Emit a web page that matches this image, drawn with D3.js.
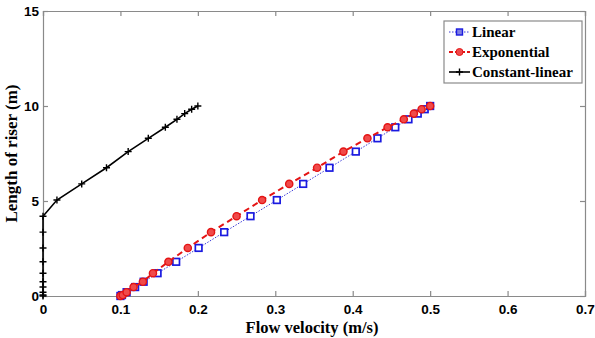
<!DOCTYPE html>
<html>
<head>
<meta charset="utf-8">
<script src="https://cdn.jsdelivr.net/npm/d3@7"></script>
<style>
  body { margin: 0; background: #fff; }
  .tick text { font-family: "Liberation Sans", Arial, sans-serif; font-weight: bold; font-size: 13.5px; fill: #000; }
  .axis-title, .legend text { font-family: "Liberation Serif", "Times New Roman", serif; font-weight: bold; fill: #000; }
</style>
</head>
<body>
<div class="chart"></div>
<script>
// riser length (m), shared by the three series
const lengths = [0, 0.05, 0.2, 0.47, 0.75, 1.2, 1.8, 2.53, 3.36, 4.2, 5.05, 5.9, 6.75, 7.6, 8.3, 8.88, 9.3, 9.6, 9.83, 10];
const linearVel = [0.1, 0.102, 0.108, 0.119, 0.13, 0.148, 0.172, 0.201, 0.234, 0.268, 0.302, 0.336, 0.37, 0.404, 0.432, 0.455, 0.472, 0.484, 0.493, 0.5];
const expVel = [0.1, 0.103, 0.108, 0.117, 0.129, 0.142, 0.162, 0.187, 0.217, 0.25, 0.283, 0.318, 0.354, 0.388, 0.419, 0.445, 0.466, 0.479, 0.489, 0.5];
const constVel = [0, 0, 0, 0, 0, 0, 0, 0, 0, 0, 0.018, 0.05, 0.082, 0.11, 0.136, 0.158, 0.173, 0.183, 0.192, 0.2];

const xTicks = [0, 0.1, 0.2, 0.3, 0.4, 0.5, 0.6, 0.7];
const yTicks = [0, 5, 10, 15];
const seriesNames = ['Linear', 'Exponential', 'Constant-linear'];

const margin = { top: 11, right: 10, bottom: 42, left: 43 };
const width = 595 - margin.left - margin.right;
const height = 338 - margin.top - margin.bottom;

const x = d3.scaleLinear().domain([0, 0.7]).range([0, width]);
const y = d3.scaleLinear().domain([0, 15]).range([height, 0]);

const svg = d3.select('.chart')
  .append('svg')
  .attr('width', 595)
  .attr('height', 338)
  .append('g')
  .attr('transform', `translate(${margin.left}, ${margin.top})`);

// box + ticks on all four sides (matlab style)
const axisColor = '#8a8a8a';
svg.append('g')
  .attr('class', 'axis x-axis')
  .attr('transform', `translate(0, ${height})`)
  .call(d3.axisBottom(x).tickValues(xTicks).tickFormat(d => d === 0 ? '0' : d3.format('.1f')(d)).tickSize(-5).tickPadding(9));
svg.append('g')
  .call(d3.axisTop(x).tickValues(xTicks).tickSize(-5).tickFormat(''));
svg.append('g')
  .attr('class', 'axis y-axis')
  .call(d3.axisLeft(y).tickValues(yTicks).tickSize(-5).tickPadding(4));
svg.append('g')
  .attr('transform', `translate(${width}, 0)`)
  .call(d3.axisRight(y).tickValues(yTicks).tickSize(-5).tickFormat(''));
svg.selectAll('.domain, .tick line').attr('stroke', axisColor).attr('stroke-width', 1.2);
svg.selectAll('.tick text').attr('dy', null);
svg.selectAll('.x-axis .tick text').attr('dy', '0.7em');
svg.selectAll('.y-axis .tick text').attr('dy', '0.35em');

svg.append('text')
  .attr('class', 'axis-title')
  .attr('x', width / 2 - 2)
  .attr('y', height + 37)
  .attr('text-anchor', 'middle')
  .style('font-size', '16.5px')
  .text('Flow velocity (m/s)');

svg.append('text')
  .attr('class', 'axis-title')
  .attr('transform', `translate(${-26}, ${height / 2}) rotate(-90)`)
  .attr('text-anchor', 'middle')
  .style('font-size', '17px')
  .text('Length of riser (m)');

const line = d3.line().x(d => x(d[0])).y(d => y(d[1]));

const linearData = linearVel.map((v, i) => [v, lengths[i]]);
const expData = expVel.map((v, i) => [v, lengths[i]]);
const constData = constVel.map((v, i) => [v, lengths[i]]);

// linear: blue dotted, open squares
svg.append('path')
  .datum(linearData)
  .attr('d', line)
  .attr('fill', 'none')
  .attr('stroke', '#3b3bd8')
  .attr('stroke-width', 1)
  .attr('stroke-dasharray', '1.5,1.5');
svg.selectAll('.sq')
  .data(linearData)
  .enter().append('rect')
  .attr('x', d => x(d[0]) - 3.3)
  .attr('y', d => y(d[1]) - 3.3)
  .attr('width', 6.6)
  .attr('height', 6.6)
  .attr('fill', '#fff')
  .attr('stroke', '#1a1ae0')
  .attr('stroke-width', 1.7);

// exponential: red dashed, circles
svg.append('path')
  .datum(expData)
  .attr('d', line)
  .attr('fill', 'none')
  .attr('stroke', '#e41414')
  .attr('stroke-width', 2)
  .attr('stroke-dasharray', '6,4');
svg.selectAll('.circ')
  .data(expData)
  .enter().append('circle')
  .attr('cx', d => x(d[0]))
  .attr('cy', d => y(d[1]))
  .attr('r', 3.6)
  .attr('fill', '#f04a4a')
  .attr('stroke', '#e41414')
  .attr('stroke-width', 1.4);

// constant-linear: black solid, plus markers
svg.append('path')
  .datum(constData)
  .attr('d', line)
  .attr('fill', 'none')
  .attr('stroke', '#000')
  .attr('stroke-width', 1.6);
svg.selectAll('.plus')
  .data(constData)
  .enter().append('path')
  .attr('d', d => `M${x(d[0]) - 3.5},${y(d[1])}h7M${x(d[0])},${y(d[1]) - 3.5}v7`)
  .attr('stroke', '#000')
  .attr('stroke-width', 1.4);

// legend
const legend = svg.append('g')
  .attr('class', 'legend')
  .attr('transform', `translate(${401}, ${10})`);
legend.append('rect')
  .attr('width', 138)
  .attr('height', 62)
  .attr('fill', '#fff')
  .attr('stroke', '#8a8a8a')
  .attr('stroke-width', 1.2);
const rowY = [11, 31, 51];
const styles = [
  { color: '#3b3bd8', dash: '1.5,1.5', w: 1 },
  { color: '#e41414', dash: '4,2', w: 2 },
  { color: '#000', dash: null, w: 1.6 }
];
seriesNames.forEach((name, i) => {
  const g = legend.append('g').attr('transform', `translate(0, ${rowY[i]})`);
  g.append('line')
    .attr('x1', 5).attr('x2', 26)
    .attr('stroke', styles[i].color)
    .attr('stroke-width', styles[i].w)
    .attr('stroke-dasharray', styles[i].dash);
  if (i === 0) {
    g.append('rect').attr('x', 12.5).attr('y', -3).attr('width', 6).attr('height', 6)
      .attr('fill', '#8080e0').attr('stroke', '#1a1ae0').attr('stroke-width', 1.4);
  } else if (i === 1) {
    g.append('circle').attr('cx', 15.5).attr('r', 3.5).attr('fill', '#f04a4a').attr('stroke', '#e41414');
  } else {
    g.append('path').attr('d', 'M12,0h7M15.5,-3.5v7').attr('stroke', '#000').attr('stroke-width', 1.4);
  }
  g.append('text')
    .attr('x', 28)
    .attr('dy', '0.35em')
    .style('font-size', '15px')
    .text(name);
});
</script>
</body>
</html>
